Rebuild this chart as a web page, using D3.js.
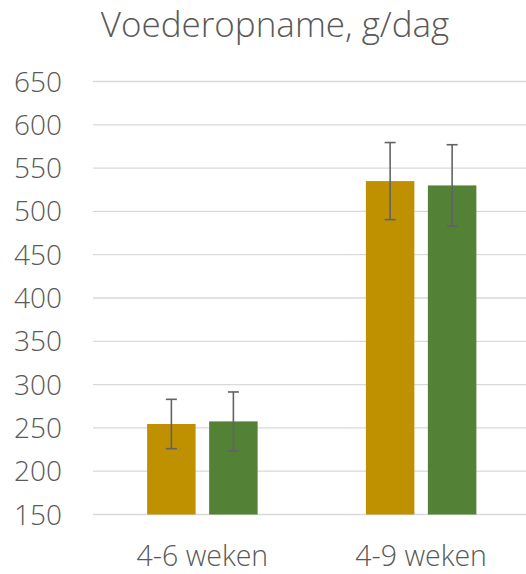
<!DOCTYPE html>
<html>
<head>
<meta charset="utf-8">
<script src="https://cdn.jsdelivr.net/npm/d3@7"></script>
<style>
  body { margin: 0; background: #fff; }
  svg { display: block; font-family: "Open Sans", sans-serif; font-weight: 300; }
</style>
</head>
<body>
<svg width="526" height="574"></svg>
<script>
const categories = ["4-6 weken", "4-9 weken"];
const series = ["a", "b"];
const colors = ["#BF9000", "#538135"];
const values = [[254.5, 535], [257.5, 530]];
const errors = [[28.5, 44.5], [34, 47]];
const yTicks = [150, 200, 250, 300, 350, 400, 450, 500, 550, 600, 650];

const svg = d3.select("svg");

// scales
const x = d3.scaleBand()
  .domain(categories)
  .range([93, 530.5])
  .padding(0);

const inner = d3.scaleBand()
  .domain(series)
  .range([-55.25, 55.25])
  .paddingInner(0.218)
  .paddingOuter(0);

const y = d3.scaleLinear()
  .domain([150, 650])
  .range([514.5, 81.5]);

// title
svg.append("text")
  .attr("x", 275)
  .attr("y", 37)
  .attr("text-anchor", "middle")
  .attr("font-size", 35)
  .attr("fill", "#595959")
  .text("Voederopname, g/dag");

// gridlines
svg.append("g")
  .selectAll("line")
  .data(yTicks)
  .enter()
  .append("line")
  .attr("x1", 93)
  .attr("x2", 526)
  .attr("y1", d => y(d))
  .attr("y2", d => y(d))
  .attr("stroke", "#d9d9d9")
  .attr("stroke-width", 1.3);

// y labels
svg.append("g")
  .selectAll("text")
  .data(yTicks)
  .enter()
  .append("text")
  .attr("x", 62)
  .attr("y", d => y(d))
  .attr("dy", "0.36em")
  .attr("text-anchor", "end")
  .attr("font-size", 28)
  .attr("fill", "#595959")
  .text(d => d);

// bars
const rows = [];
series.forEach((s, si) => {
  categories.forEach((c, ci) => {
    rows.push({ s: s, c: c, color: colors[si], v: values[si][ci], e: errors[si][ci] });
  });
});

const cx = d => x(d.c) + x.bandwidth() / 2 + inner(d.s);

svg.append("g")
  .selectAll("rect")
  .data(rows)
  .enter()
  .append("rect")
  .attr("x", cx)
  .attr("y", d => y(d.v))
  .attr("width", inner.bandwidth())
  .attr("height", d => y(150) - y(d.v))
  .attr("fill", d => d.color);

// error bars
const eb = svg.append("g")
  .attr("stroke", "#636363")
  .attr("stroke-width", 1.6);

rows.forEach(d => {
  const mx = cx(d) + inner.bandwidth() / 2;
  eb.append("line")
    .attr("x1", mx).attr("x2", mx)
    .attr("y1", y(d.v + d.e)).attr("y2", y(d.v - d.e));
  [d.v + d.e, d.v - d.e].forEach(t => {
    eb.append("line")
      .attr("x1", mx - 5.5).attr("x2", mx + 5.5)
      .attr("y1", y(t)).attr("y2", y(t));
  });
});

// x labels
svg.append("g")
  .selectAll("text")
  .data(categories)
  .enter()
  .append("text")
  .attr("x", d => x(d) + x.bandwidth() / 2)
  .attr("y", 566)
  .attr("text-anchor", "middle")
  .attr("font-size", 28.5)
  .attr("fill", "#595959")
  .text(d => d);
</script>
</body>
</html>
